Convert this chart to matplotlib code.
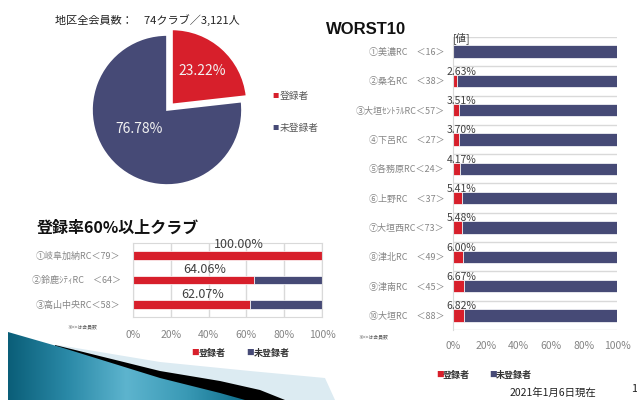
import matplotlib
matplotlib.use('Agg')
import matplotlib.pyplot as plt
from matplotlib.patches import Polygon
from matplotlib.colors import LinearSegmentedColormap
import numpy as np

plt.rcParams['font.family'] = ['Noto Sans CJK JP', 'DejaVu Sans']

W, H = 637, 400
RED = '#D71F2B'
NAVY = '#464A76'
GRID = '#D9D9D9'
TICK = '#858585'

# data
pie_labels = ['登録者', '未登録者']
pie_values = [23.22, 76.78]

worst_clubs = ['①美濃RC　＜16＞', '②桑名RC　＜38＞', '③大垣ｾﾝﾄﾗﾙRC＜57＞', '④下呂RC　＜27＞',
               '⑤各務原RC＜24＞', '⑥上野RC　＜37＞', '⑦大垣西RC＜73＞', '⑧津北RC　＜49＞',
               '⑨津南RC　＜45＞', '⑩大垣RC　＜88＞']
worst_rate = [0.00, 2.63, 3.51, 3.70, 4.17, 5.41, 5.48, 6.00, 6.67, 6.82]

top_clubs = ['①岐阜加納RC＜79＞', '②鈴鹿ｼﾃｨRC　＜64＞', '③高山中央RC＜58＞']
top_rate = [100.00, 64.06, 62.07]

pct_ticks = [0, 20, 40, 60, 80, 100]


def rect(x0, y0, x1, y1):
    return [x0 / W, 1 - y1 / H, (x1 - x0) / W, (y1 - y0) / H]


fig = plt.figure(figsize=(W / 100, H / 100), dpi=100)

# background layer in pixel coords
bg = fig.add_axes([0, 0, 1, 1])
bg.set_xlim(0, W)
bg.set_ylim(H, 0)
bg.axis('off')

# swoosh decoration (bottom left)
bg.add_patch(Polygon([(58, 345), (160, 362), (250, 371), (325, 378), (335, 400), (58, 400)],
                     closed=True, facecolor='#DCEBF2', edgecolor='none'))
bg.add_patch(Polygon([(55, 345), (160, 371), (220, 381), (260, 390), (285, 400), (55, 400)],
                     closed=True, facecolor='black', edgecolor='none'))
teal = Polygon([(8, 332), (60, 347), (160, 378), (220, 393), (245, 400), (8, 400)], closed=True,
               facecolor='none', edgecolor='none')
bg.add_patch(teal)
cmap = LinearSegmentedColormap.from_list('teal', ['#0A5E78', '#2A89A7', '#5DB4CE', '#3A9AB6', '#0F6E8B'])
grad = np.tile(np.linspace(0, 1, 256), (20, 1))
im = bg.imshow(grad, extent=[8, 245, 400, 330], cmap=cmap, aspect='auto', zorder=1)
im.set_clip_path(teal)
bg.set_xlim(0, W)
bg.set_ylim(H, 0)

# pie block
bg.text(55, 20, '地区全会員数：　74クラブ／3,121人', fontsize=8, color='#222222', va='center')
ax = fig.add_axes(rect(77, 20, 257, 200))
wedges, texts, autotexts = ax.pie(pie_values, explode=[0.1, 0], colors=[RED, NAVY], startangle=90,
                                  counterclock=False, autopct='%.2f%%', pctdistance=0.6,
                                  wedgeprops=dict(edgecolor='white', linewidth=1.2),
                                  textprops=dict(color='#F2F2F2', fontsize=10))
autotexts[1].set_position((-0.37, -0.25))
ax.set_xlim(-1.2, 1.2)
ax.set_ylim(-1.2, 1.2)

for k, (lab, c) in enumerate(zip(pie_labels, [RED, NAVY])):
    yy = 96 + k * 32
    bg.text(272, yy, '■', fontsize=4.5, color=c, va='center')
    bg.text(280, yy, lab, fontsize=7, color='#595959', va='center')

# WORST10
bg.text(326, 30, 'WORST10', fontsize=12, fontweight='bold', color='#111111', va='center',
        family=['Liberation Sans'])
ax2 = fig.add_axes(rect(453, 37, 617, 330))
y = np.arange(len(worst_clubs))
rest = [100 - v for v in worst_rate]
ax2.barh(y, worst_rate, height=0.42, color=RED, edgecolor='white', linewidth=0.5, zorder=2)
ax2.barh(y, rest, left=worst_rate, height=0.42, color=NAVY, edgecolor='white', linewidth=0.5, zorder=2)
for b in np.arange(-0.5, len(worst_clubs), 1):
    ax2.axhline(b, color=GRID, lw=1, zorder=0)
ax2.set_xlim(0, 100)
ax2.set_ylim(len(worst_clubs) - 0.5, -0.5)
ax2.set_yticks(y)
ax2.set_yticklabels(worst_clubs, fontsize=6.5, color=TICK)
ax2.set_xticks(pct_ticks)
ax2.set_xticklabels([f'{t}%' for t in pct_ticks], fontsize=7.5, color=TICK)
ax2.tick_params(length=0)
ax2.tick_params(axis='y', pad=6)
ax2.tick_params(axis='x', pad=8)
for s in ['top', 'right', 'bottom']:
    ax2.spines[s].set_visible(False)
ax2.spines['left'].set_color(GRID)
for i, v in enumerate(worst_rate):
    if i == 0:
        ax2.text(5, i - 0.47, '[値]', ha='center', va='center', fontsize=7.5, color='#404040')
    else:
        ax2.text(5, i - 0.31, f'{v:.2f}%', ha='center', va='center', fontsize=7.5, color='#404040')
bg.text(358, 337, '※<>は会員数', fontsize=3.5, color='#595959', va='center')
for lab, c, xx in zip(pie_labels, [RED, NAVY], [436, 489]):
    bg.text(xx, 375, '■', fontsize=5.5, color=c, va='center')
    bg.text(xx + 7, 375, lab, fontsize=6.5, fontweight='bold', color='#333333', va='center')

# top clubs
bg.text(37, 228, '登録率60%以上クラブ', fontsize=11.5, fontweight='bold', color='#111111', va='center')
ax3 = fig.add_axes(rect(133, 243, 322, 317))
y3 = np.arange(len(top_clubs))
rest3 = [100 - v for v in top_rate]
ax3.barh(y3, top_rate, height=0.36, color=RED, edgecolor='white', linewidth=0.5, zorder=2)
ax3.barh(y3, rest3, left=top_rate, height=0.36, color=NAVY, edgecolor='white', linewidth=0.5, zorder=2)
ax3.set_xlim(0, 100)
ax3.set_ylim(len(top_clubs) - 0.5, -0.5)
ax3.set_xticks(pct_ticks)
ax3.set_xticklabels([f'{t}%' for t in pct_ticks], fontsize=7.5, color=TICK)
ax3.set_yticks(y3)
ax3.set_yticklabels(top_clubs, fontsize=6.5, color=TICK)
ax3.grid(axis='x', color=GRID, lw=1, zorder=0)
ax3.set_axisbelow(True)
ax3.tick_params(length=0)
ax3.tick_params(axis='y', pad=9)
ax3.tick_params(axis='x', pad=9)
for s in ax3.spines.values():
    s.set_color(GRID)
for i, v in enumerate(top_rate):
    ax3.text(v / 2 + 6, i - 0.42, f'{v:.2f}%', ha='center', va='center', fontsize=9, color='#404040')
bg.text(67, 327, '※<>は会員数', fontsize=3.5, color='#595959', va='center')
for lab, c, xx in zip(pie_labels, [RED, NAVY], [191, 246]):
    bg.text(xx, 353, '■', fontsize=5.5, color=c, va='center')
    bg.text(xx + 8, 353, lab, fontsize=6.5, fontweight='bold', color='#333333', va='center')

# footer
bg.text(510, 393, '2021年1月6日現在', fontsize=7.5, color='#222222', va='center')
bg.text(631, 389, '1', fontsize=8, color='#222222', va='center')

fig.savefig('out.png', dpi=100)
